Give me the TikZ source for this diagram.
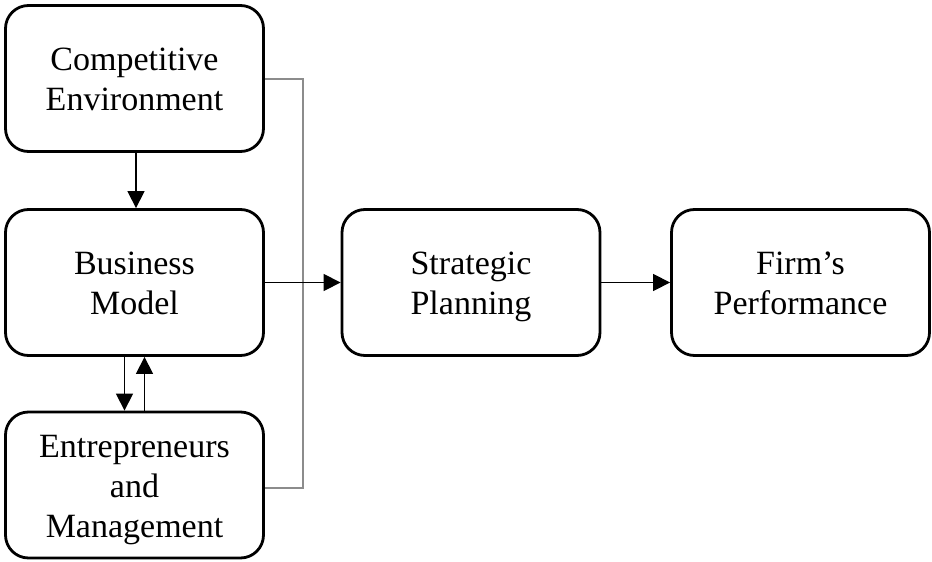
\documentclass[tikz,border=0pt]{standalone}
\usepackage{fontspec}
\setmainfont{Liberation Serif}
\usetikzlibrary{arrows.meta}
% taller strut for the first line of each label, lowering the text block a little
\newcommand\firstline{\rule{0pt}{\dimexpr\ht\strutbox+8pt\relax}}
\begin{document}
\begin{tikzpicture}[x=1pt,y=-1pt,
  box/.style={draw, line width=2.8pt, rounded corners=23pt,
    minimum width=258pt, minimum height=146pt, inner sep=0pt,
    align=center, font=\fontsize{34}{40}\selectfont},
  flow/.style={line width=1.3pt, -{Triangle[length=17pt,width=17pt]}},
  feed/.style={line width=2pt, draw=black!45}]
\useasboundingbox (0,0) rectangle (932,562);
% the five blocks
\node[box] (comp)  at (134.5,78.5) {\firstline Competitive\\\strut Environment};
\node[box] (bus)   at (134.5,282.5) {\firstline Business\\\strut Model};
\node[box] (ent)   at (134.5,485) {\firstline Entrepreneurs\\\strut and\\\strut Management};
\node[box] (strat) at (471,282.5) {\firstline Strategic\\\strut Planning};
\node[box] (firm)  at (800.5,282.5) {\firstline Firm’s\\\strut Performance};
% grey feedback bracket joining the environment and management blocks
\coordinate (top)    at (303,78.5);
\coordinate (bottom) at (303,488);
\draw[feed] (comp.east) -- (top) -- (bottom) -- (bottom -| ent.east);
% main flow
\draw[flow] ([xshift=1.5pt]comp.south) -- ([xshift=1.5pt]bus.north);
\draw[flow] ([xshift=-10pt]bus.south) -- ([xshift=-10pt]ent.north);
\draw[flow] ([xshift=10pt]ent.north) -- ([xshift=10pt]bus.south);
\draw[flow] (bus.east) -- (strat.west);
\draw[flow] (strat.east) -- (firm.west);
\end{tikzpicture}
\end{document}
